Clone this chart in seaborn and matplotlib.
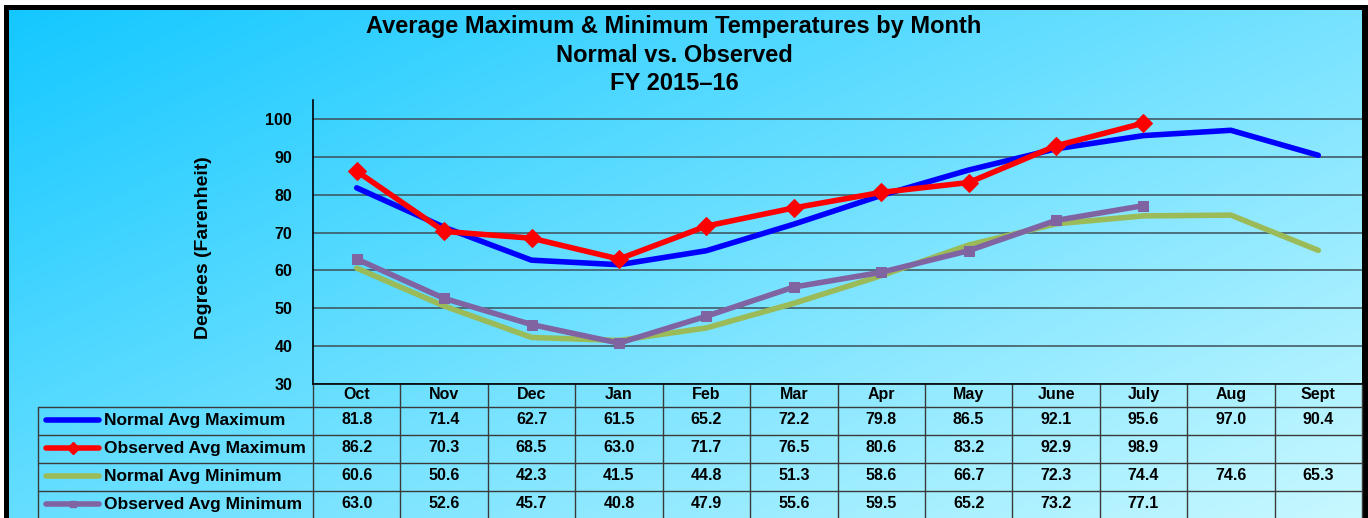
import numpy as np
import pandas as pd
import matplotlib
matplotlib.use("Agg")
import matplotlib.pyplot as plt
import seaborn as sns

# data
months = ['Oct', 'Nov', 'Dec', 'Jan', 'Feb', 'Mar', 'Apr', 'May', 'June', 'July', 'Aug', 'Sept']
normal_max = [81.8, 71.4, 62.7, 61.5, 65.2, 72.2, 79.8, 86.5, 92.1, 95.6, 97.0, 90.4]
observed_max = [86.2, 70.3, 68.5, 63.0, 71.7, 76.5, 80.6, 83.2, 92.9, 98.9, np.nan, np.nan]
normal_min = [60.6, 50.6, 42.3, 41.5, 44.8, 51.3, 58.6, 66.7, 72.3, 74.4, 74.6, 65.3]
observed_min = [63.0, 52.6, 45.7, 40.8, 47.9, 55.6, 59.5, 65.2, 73.2, 77.1, np.nan, np.nan]
series_names = ['Normal Avg Maximum', 'Observed Avg Maximum', 'Normal Avg Minimum', 'Observed Avg Minimum']

sns.set_theme(style='white')
plt.rcParams['font.family'] = ['Liberation Sans', 'DejaVu Sans']
plt.rcParams['font.weight'] = 'bold'
plt.rcParams['text.color'] = 'black'
plt.rcParams['xtick.color'] = 'black'
plt.rcParams['ytick.color'] = 'black'
plt.rcParams['axes.labelcolor'] = 'black'

W, H = 1368, 518
fig = plt.figure(figsize=(W / 100, H / 100), dpi=100)

# background with gradient and black frame (pixel coords)
bg = fig.add_axes([0, 0, 1, 1])
bg.set_xlim(0, W)
bg.set_ylim(H, 0)
bg.axis('off')
bg.set_zorder(0)
xx, yy = np.meshgrid(np.linspace(0, 1, 300), np.linspace(0, 1, 120))
t = np.clip(0.55 * xx + 0.45 * yy, 0, 1)
c0 = np.array([20, 200, 255]) / 255
c1 = np.array([200, 248, 255]) / 255
grad = c0[None, None, :] * (1 - t[..., None]) + c1[None, None, :] * t[..., None]
bg.imshow(grad, extent=(9, 1362, H, 10), aspect='auto', interpolation='bilinear')
bg.add_patch(plt.Rectangle((4, 5), 5, H, color='black', lw=0))
bg.add_patch(plt.Rectangle((4, 5), W, 5, color='black', lw=0))
bg.add_patch(plt.Rectangle((1362, 5), 6, H, color='black', lw=0))

# main plot area
x0, x1, ytop, ybot = 313, 1362, 100, 384
ax = fig.add_axes([x0 / W, 1 - ybot / H, (x1 - x0) / W, (ybot - ytop) / H])
ax.set_zorder(2)
ax.patch.set_alpha(0)

idx = np.arange(len(months))
styles = [
    (normal_max, '#0000FF', None, 0),
    (observed_max, '#FF0000', 'D', 9.5),
    (normal_min, '#9BBB59', None, 0),
    (observed_min, '#8064A2', 's', 7.5),
]
for vals, col, mk, ms in styles:
    sns.lineplot(x=idx, y=np.array(vals), ax=ax, color=col, lw=4,
                 marker=mk, markersize=ms, markeredgecolor=col, solid_capstyle='round')

ax.set_xlim(-0.5, len(months) - 0.5)
ax.set_ylim(30, 105)
ax.set_yticks(range(30, 101, 10))
ax.set_xticks(idx, months)
ax.tick_params(axis='y', length=4, width=1, color='#404040', pad=11, labelsize=11.5)
ax.tick_params(axis='x', length=0, pad=2.5, labelsize=11.5)
for lbl in ax.get_xticklabels() + ax.get_yticklabels():
    lbl.set_fontweight('bold')
ax.yaxis.grid(True, color='#3c4f58', lw=1.1)
ax.set_axisbelow(True)
for s in ['top', 'right']:
    ax.spines[s].set_visible(False)
ax.spines['left'].set_color('black')
ax.spines['bottom'].set_color('black')
ax.spines['left'].set_linewidth(1.2)
ax.spines['bottom'].set_linewidth(1.2)
ax.set_xlabel('')
ax.set_ylabel('')

# titles
fig.text(674 / W, 1 - 27 / H, 'Average Maximum & Minimum Temperatures by Month',
         ha='center', va='center', fontsize=17, fontweight='bold')
fig.text(674 / W, 1 - 55 / H, 'Normal vs. Observed', ha='center', va='center', fontsize=17, fontweight='bold')
fig.text(674 / W, 1 - 83 / H, 'FY 2015\u201316', ha='center', va='center', fontsize=17, fontweight='bold')
fig.text(203 / W, 1 - 248 / H, 'Degrees (Farenheit)', rotation=90, ha='center', va='center',
         fontsize=14, fontweight='bold')

# data table
tab = fig.add_axes([0, 0, 1, 1])
tab.set_xlim(0, W)
tab.set_ylim(H, 0)
tab.axis('off')
tab.set_zorder(1)
col_w = (x1 - x0) / len(months)
row_edges = [407, 435, 463, 491, 519]
line_col = '#3a3a3a'
for y in row_edges[:-1]:
    tab.plot([38, x1], [y, y], color=line_col, lw=1)
tab.plot([38, 38], [row_edges[0], H], color=line_col, lw=1)
for k in range(len(months) + 1):
    xe = x0 + k * col_w
    tab.plot([xe, xe], [ybot, H], color=line_col, lw=1)

table_rows = [normal_max, observed_max, normal_min, observed_min]
for r, (vals, st) in enumerate(zip(table_rows, styles)):
    yc = (row_edges[r] + row_edges[r + 1]) / 2 - 1
    col, mk, ms = st[1], st[2], st[3]
    tab.plot([46, 99], [yc, yc], color=col, lw=4, solid_capstyle='round')
    if mk:
        tab.plot([73], [yc], marker=mk, color=col, markersize=ms * 0.6, markeredgecolor=col)
    tab.text(104, yc, series_names[r], ha='left', va='center', fontsize=12.5, fontweight='bold')
    for i, v in enumerate(vals):
        if not np.isnan(v):
            tab.text(x0 + (i + 0.5) * col_w, yc, f'{v:.1f}', ha='center', va='center',
                     fontsize=11.5, fontweight='bold')

fig.savefig('out.png', dpi=100)
